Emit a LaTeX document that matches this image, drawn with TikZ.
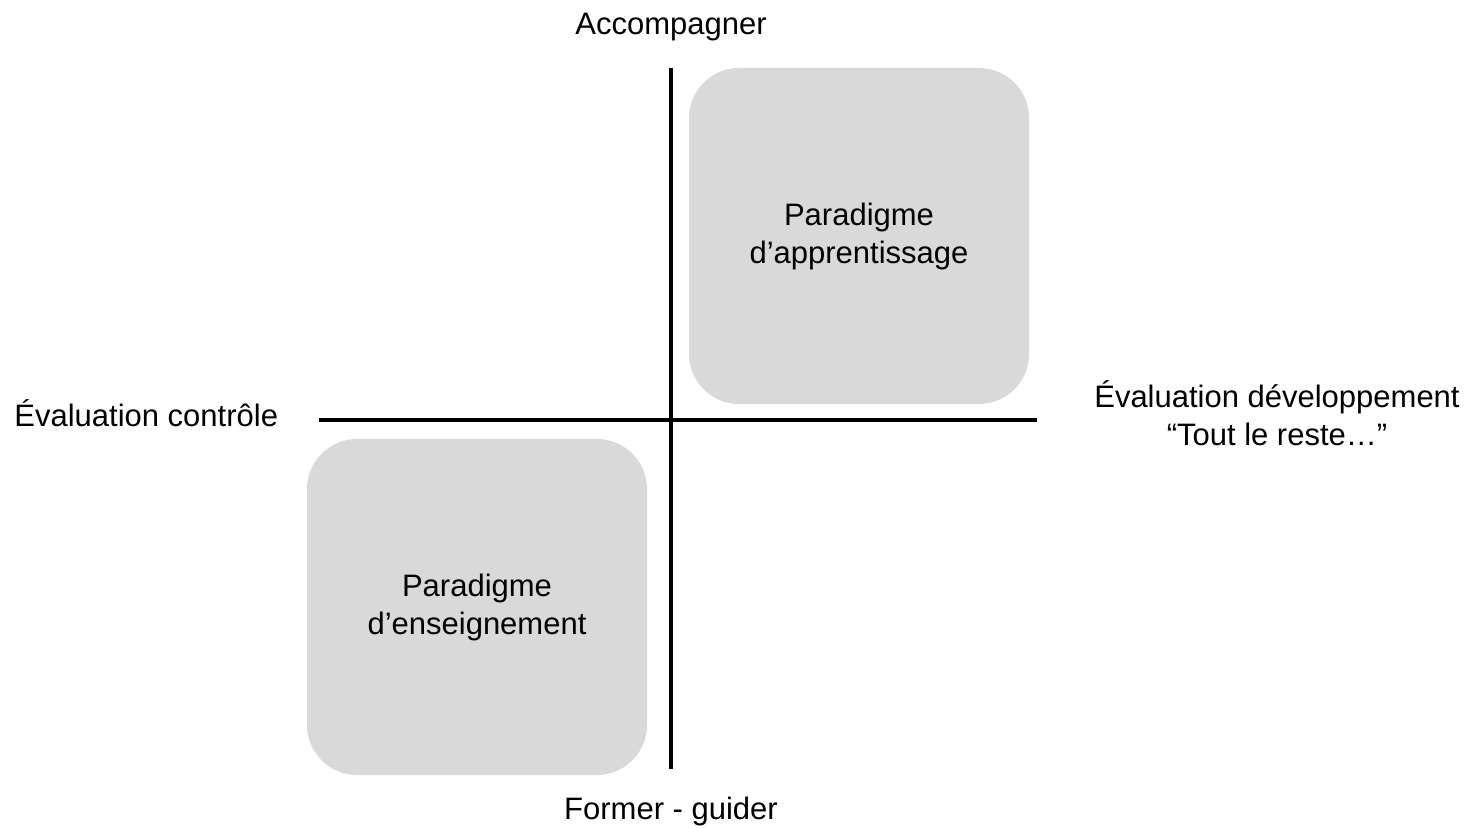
\documentclass[tikz,border=0pt]{standalone}
\usepackage{fontspec}
\setmainfont{Liberation Sans}
\usepackage{tikz}

\definecolor{boxgray}{RGB}{217,217,217}

\begin{document}
\begin{tikzpicture}[x=0.5pt,y=-0.5pt,
	paradigm/.style={fill=boxgray, rounded corners=25pt, inner sep=0pt,
		minimum width=170pt, minimum height=168pt, align=center,
		font=\fontsize{15.5}{19}\selectfont},
	axislabel/.style={inner sep=0pt, align=center,
		font=\fontsize{15.5}{19}\selectfont},
	axis/.style={line width=2pt}]
	\useasboundingbox (0,0) rectangle (1468,828);
	
	\node[paradigm] (appr) at (859,236) {Paradigme\\d’apprentissage};
	\node[paradigm] (ens) at (477,607) {Paradigme\\d’enseignement};
	
	\coordinate (top) at (671,68);
	\coordinate (bottom) at (671,769);
	\coordinate (left) at (319,420);
	\coordinate (right) at (1037,420);
	\draw[axis] (top) -- (bottom);
	\draw[axis] (left) -- (right);
	
	\node[axislabel, anchor=base] (acc) at (671,35) {Accompagner};
	\node[axislabel, anchor=base] (form) at (671,819) {Former - guider};
	\node[axislabel, anchor=base west] (ctrl) at (14,427) {Évaluation contrôle};
	\node[axislabel] (dev) at (1277,413) {Évaluation développement\\“Tout le reste…”};
\end{tikzpicture}
\end{document}
